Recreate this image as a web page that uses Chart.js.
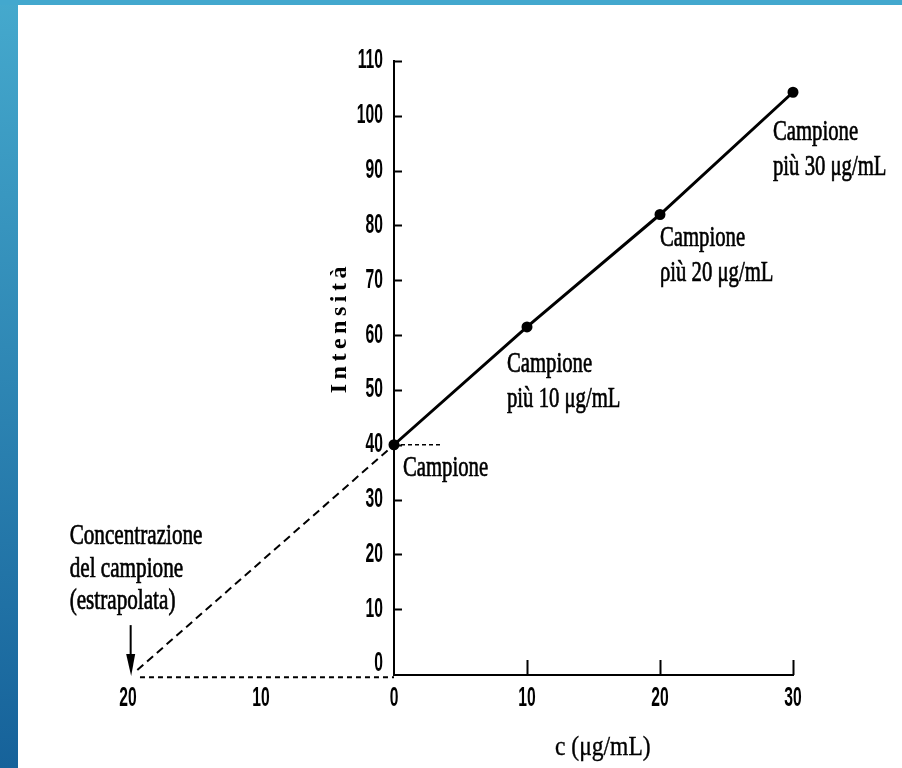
<!DOCTYPE html>
<html><head><meta charset="utf-8">
<script src="https://cdn.jsdelivr.net/npm/chart.js@4"></script>
<style>
html,body{margin:0;padding:0;background:#fff;width:902px;height:768px;overflow:hidden}
#leftband{position:absolute;left:0;top:0;width:18px;height:768px;background:linear-gradient(#45a9cd,#16629a)}
#topband{position:absolute;left:0;top:0;width:902px;height:5px;background:#43a8ce}
#c{position:absolute;left:0;top:0}
</style></head><body>
<div id="leftband"></div><div id="topband"></div>
<canvas id="c" width="902" height="768"></canvas>
<script>
// ---- data ----
const concentrations = [0, 10, 20, 30];
const intensities = [40, 61.5, 82, 104.3];
const pointLabels = [
  ['Campione'],
  ['Campione', 'più 10 μg/mL'],
  ['Campione', 'ρiù 20 μg/mL'],
  ['Campione', 'più 30 μg/mL']
];
const extrapX = [-19.3, 0];
const extrapY = [-1.1, 40];
const baselineX = [-19.1, 0];
const baselineY = [-2.4, -2.4];
const sampleGuideX = [0, 3.5];
const sampleGuideY = [40, 40];
const xTicks = [-20, -10, 0, 10, 20, 30];
const yTicks = [0, 10, 20, 30, 40, 50, 60, 70, 80, 90, 100, 110];
const arrowX = -19.8;
const arrowY = [7.1, -2.2];
const noteLines = ['Concentrazione', 'del campione', '(estrapolata)'];
const xTitle = 'c (μg/mL)';
const yTitle = 'Intensità';

// ---- styles ----
const tickFontCss = "bold 27px 'Liberation Sans', Arimo, Arial, sans-serif";
const serif = "'Liberation Serif', Tinos, 'Times New Roman', serif";
const labelOffsets = [[9, 31], [-20, 45], [0, 31], [-20, 48]];

const pts = (xs, ys) => xs.map((x, i) => ({x: x, y: ys[i]}));

function squeezeText(ctx, text, x, y, sx, align, thicken) {
  ctx.save();
  ctx.translate(x, y);
  ctx.scale(sx, 1);
  ctx.textAlign = align;
  ctx.fillText(text, 0, 0);
  if (thicken) { ctx.lineWidth = thicken; ctx.strokeText(text, 0, 0); }
  ctx.restore();
}

const decor = {
  id: 'decor',
  beforeDatasetsDraw(chart) {
    const {ctx, scales: {x, y}, chartArea} = chart;
    ctx.save();
    ctx.strokeStyle = '#000';
    ctx.fillStyle = '#000';
    ctx.lineWidth = 2;
    const base = chartArea.bottom;
    const ax = x.getPixelForValue(0);
    // x axis line (positive side only)
    ctx.beginPath();
    ctx.moveTo(ax, base);
    ctx.lineTo(x.getPixelForValue(xTicks[xTicks.length - 1]) + 1, base);
    ctx.stroke();
    // x tick marks (upward)
    xTicks.filter(v => v > 0).forEach(v => {
      const px = Math.round(x.getPixelForValue(v)) + 0.5;
      ctx.beginPath(); ctx.moveTo(px, base); ctx.lineTo(px, base - 15); ctx.stroke();
    });
    // y tick marks (rightward)
    yTicks.filter(v => v > 0).forEach(v => {
      const py = Math.round(y.getPixelForValue(v)) + 0.5;
      ctx.beginPath(); ctx.moveTo(ax, py); ctx.lineTo(ax + 8, py); ctx.stroke();
    });
    // tick labels
    ctx.font = tickFontCss;
    ctx.textBaseline = 'middle';
    y.ticks.forEach(t => squeezeText(ctx, String(t.value), ax - 11, y.getPixelForValue(t.value), 0.58, 'right'));
    x.ticks.forEach(t => squeezeText(ctx, String(Math.abs(t.value)), x.getPixelForValue(t.value), base + 24, 0.58, 'center'));
    ctx.restore();
  },
  afterDraw(chart) {
    const {ctx, scales: {x, y}, chartArea} = chart;
    ctx.save();
    ctx.fillStyle = '#000';
    ctx.strokeStyle = '#000';
    ctx.textBaseline = 'alphabetic';
    ctx.font = '30px ' + serif;
    // point annotations
    concentrations.forEach((c, i) => {
      const px = x.getPixelForValue(c) + labelOffsets[i][0];
      const py = y.getPixelForValue(intensities[i]) + labelOffsets[i][1];
      pointLabels[i].forEach((t, j) => squeezeText(ctx, t, px, py + j * 35, 0.69, 'left', 0.7));
    });
    // arrow
    const axp = x.getPixelForValue(arrowX);
    const y1 = y.getPixelForValue(arrowY[0]);
    const y2 = y.getPixelForValue(arrowY[1]);
    ctx.lineWidth = 2;
    ctx.beginPath(); ctx.moveTo(axp, y1); ctx.lineTo(axp, y2 - 12); ctx.stroke();
    ctx.beginPath(); ctx.moveTo(axp - 4.5, y2 - 22); ctx.lineTo(axp + 4.5, y2 - 22); ctx.lineTo(axp + 0.5, y2); ctx.closePath(); ctx.fill();
    // note
    ctx.font = '29px ' + serif;
    noteLines.forEach((t, j) => squeezeText(ctx, t, axp - 61, y1 - 81 + j * 32.5, 0.73, 'left', 0.7));
    // x title
    ctx.font = '28px ' + serif;
    squeezeText(ctx, xTitle, x.getPixelForValue(15.7), chartArea.bottom + 80, 0.84, 'center', 0.4);
    // y title
    ctx.save();
    ctx.translate(x.getPixelForValue(0) - 54, y.getPixelForValue(61));
    ctx.rotate(-Math.PI / 2);
    ctx.textBaseline = 'middle';
    ctx.textAlign = 'center';
    ctx.font = 'bold 24px ' + serif;
    ctx.letterSpacing = '4.5px';
    ctx.fillText(yTitle, 2, 0);
    ctx.restore();
    ctx.restore();
  }
};

new Chart(document.getElementById('c'), {
  type: 'scatter',
  data: {
    datasets: [
      {data: pts(concentrations, intensities), showLine: true, borderColor: '#000', backgroundColor: '#000',
       borderWidth: 3, pointRadius: 4, pointHoverRadius: 4, clip: false},
      {data: pts(extrapX, extrapY), showLine: true, borderColor: '#000', borderWidth: 2,
       borderDash: [8, 5], pointRadius: 0, clip: false},
      {data: pts(baselineX, baselineY), showLine: true, borderColor: '#000', borderWidth: 2,
       borderDash: [5, 4], pointRadius: 0, clip: false},
      {data: pts(sampleGuideX, sampleGuideY), showLine: true, borderColor: '#000', borderWidth: 1.5,
       borderDash: [4, 3], pointRadius: 0, clip: false}
    ]
  },
  options: {
    responsive: false,
    animation: false,
    layout: {padding: {left: 128, right: 109, top: 61, bottom: 53}},
    plugins: {legend: {display: false}, tooltip: {enabled: false}},
    scales: {
      x: {
        type: 'linear', position: 'bottom', min: -20, max: 30,
        afterBuildTicks: s => { s.ticks = xTicks.map(v => ({value: v})); },
        afterFit: s => { s.height = 40; },
        grid: {display: false, drawTicks: false},
        border: {display: false},
        ticks: {display: false}
      },
      y: {
        type: 'linear', position: {x: 0}, min: -2, max: 110,
        afterBuildTicks: s => { s.ticks = yTicks.map(v => ({value: v})); },
        grid: {display: false, drawTicks: false},
        border: {display: true, color: '#000', width: 2},
        ticks: {display: false}
      }
    }
  },
  plugins: [decor]
});
</script>
</body></html>
